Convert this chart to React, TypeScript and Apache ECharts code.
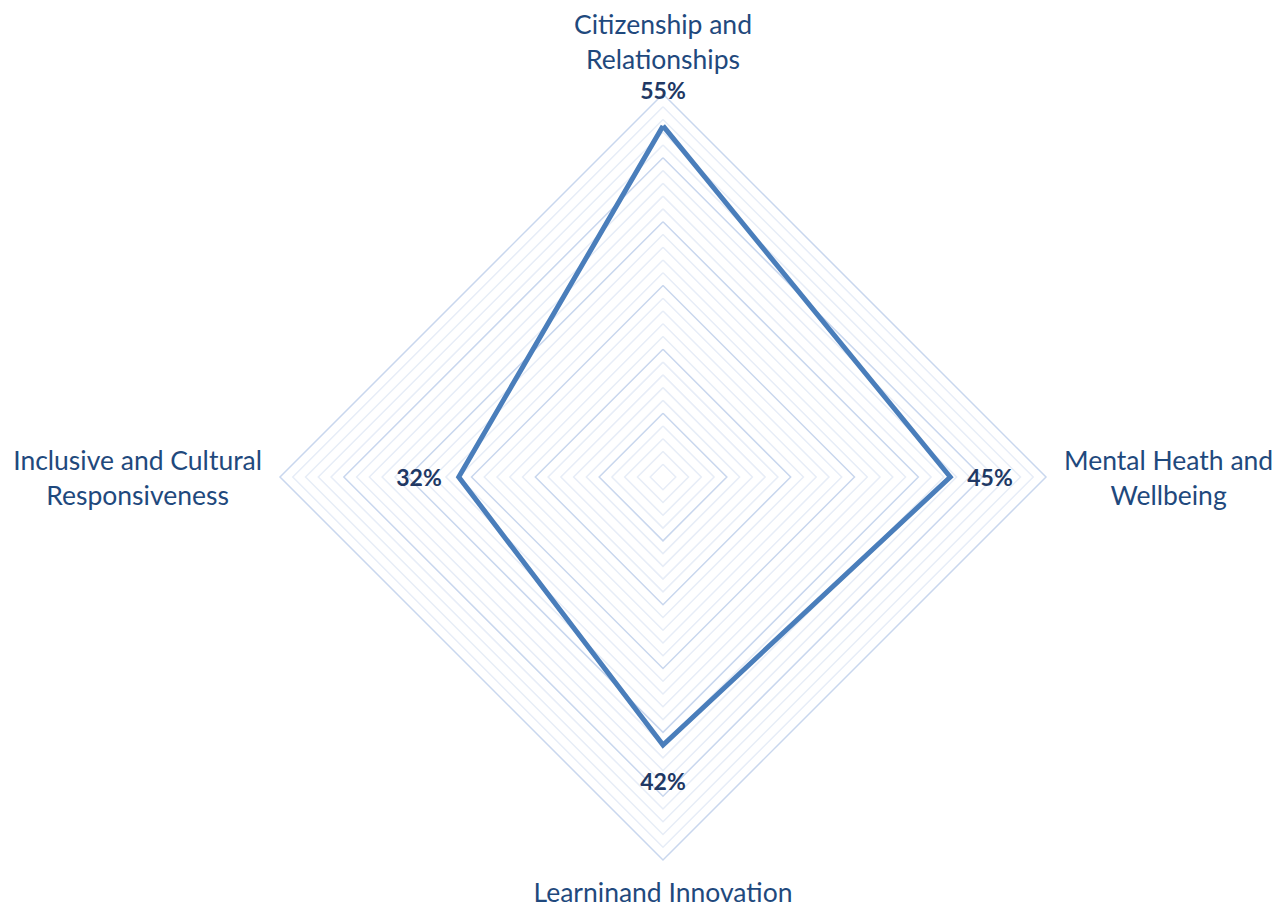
import React, { useEffect, useRef } from 'react';
import * as echarts from 'echarts';

// Categories in clockwise order starting at the top (as in the reference)
const categories = [
  'Citizenship and\nRelationships',
  'Mental Heath and\nWellbeing',
  'Learninand Innovation',
  'Inclusive and Cultural\nResponsiveness',
];
const values = [55, 45, 42, 32];
const labelPositions = ['top', 'right', 'bottom', 'left'];
const axisMin = 0;
const axisMax = 60;
const ringCount = 30; // a ring every 2%
const majorEvery = 5; // darker ring every 10%

// ECharts places indicators counter-clockwise from the top
const ecOrder = [0, 3, 2, 1];

const TEXT = '#1F497D';
const LABEL = '#203864';
const LINE = '#4A7EBB';
const FONT = 'Lato, "Open Sans", sans-serif';
const NAME_SIZE = 26.5;

export default function App() {
  const ref = useRef<HTMLDivElement>(null);
  useEffect(() => {
    if (!ref.current) return;
    const chart = echarts.init(ref.current, undefined, { renderer: 'svg' });
    const indicator = ecOrder.map((i) => ({ name: categories[i], min: axisMin, max: axisMax }));
    const ecValues = ecOrder.map((i) => values[i]);
    const ringColors = Array.from({ length: ringCount + 1 }, (_, i) =>
      i % majorEvery === 0 ? '#C9D7EE' : '#E7EDF7'
    );
    const labelItems = ecOrder.map((origIdx, dimIdx) => ({
      value: ecValues,
      symbol: 'circle',
      symbolSize: 0,
      itemStyle: { color: 'rgba(0,0,0,0)' },
      lineStyle: { opacity: 0, width: 0 },
      label: {
        show: true,
        position: labelPositions[origIdx],
        distance: origIdx === 0 || origIdx === 2 ? 24 : 17,
        color: LABEL,
        fontWeight: 'bold',
        fontSize: 23,
        fontFamily: FONT,
        formatter: (p: any) =>
          p.dimensionIndex === dimIdx ? `${ecValues[dimIdx]}%` : '',
      },
    }));
    chart.setOption({
      animation: false,
      radar: {
        center: [663, 477],
        radius: 383,
        shape: 'polygon',
        splitNumber: ringCount,
        indicator,
        nameGap: 18,
        axisName: {
          color: TEXT,
          fontSize: NAME_SIZE,
          fontFamily: FONT,
          formatter: (name: string) => {
            const lines = name.split('\n');
            const key = lines.length > 1 ? 'n' : 's';
            return lines.map((l) => `{${key}|${l}}`).join('\n');
          },
          rich: {
            n: {
              align: 'center',
              color: TEXT,
              fontSize: NAME_SIZE,
              fontFamily: FONT,
              lineHeight: 35,
            },
            s: {
              align: 'center',
              color: TEXT,
              fontSize: NAME_SIZE,
              fontFamily: FONT,
              lineHeight: 28,
            },
          },
        },
        axisLine: { show: false },
        axisTick: { show: false },
        axisLabel: { show: false },
        splitArea: { show: false },
        splitLine: { lineStyle: { color: ringColors, width: 1.5 } },
      },
      series: [
        {
          type: 'radar',
          data: [
            {
              value: ecValues,
              symbol: 'none',
              lineStyle: { color: LINE, width: 5, join: 'miter' },
              itemStyle: { color: LINE },
            },
            ...labelItems,
          ],
        },
      ],
    });
    return () => chart.dispose();
  }, []);
  return (
    <div
      ref={ref}
      style={{ position: 'fixed', left: 0, top: 0, width: 1286, height: 907, background: '#fff' }}
    />
  );
}
